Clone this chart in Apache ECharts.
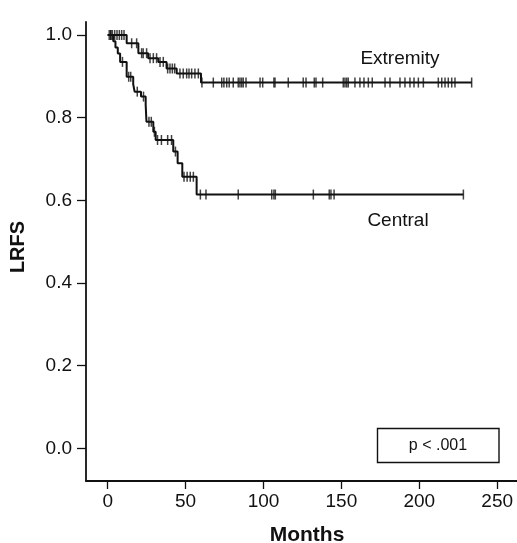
<!DOCTYPE html>
<html>
<head>
<meta charset="utf-8">
<script src="https://cdn.jsdelivr.net/npm/echarts@6/dist/echarts.min.js"></script>
<style>html,body{margin:0;padding:0;background:#fff}#c{width:517px;height:543px}</style>
</head>
<body>
<div id="c"></div>
<script>
// Kaplan-Meier step data (months, LRFS)
var extremityTimes  = [0, 12.2, 19.7, 26, 32.5, 37.8, 44.3, 59.9, 233.6];
var extremityValues = [1.0, 0.980, 0.956, 0.944, 0.935, 0.919, 0.907, 0.885, 0.885];
var extremityCensored = [1, 2, 3, 4.5, 6, 7.5, 9, 10.5, 15.4, 18.6, 21.8, 22.8, 25.0, 27.2, 29.3, 31.4, 33.6, 35.7,
  38.5, 40, 41.5, 43, 46.4, 48.5, 50.7, 52.2, 53.9, 56, 58.2, 60.5, 67.8, 73.2, 74.6, 76.4, 78.0, 80.6, 83.8, 84.9,
  86.0, 87.0, 88.8, 97.8, 99.5, 106.7, 107.4, 115.9, 125.5, 127.3, 132.6, 133.7, 138.0, 151.2, 152.3, 153.4, 154.4,
  158.7, 161.9, 164.5, 167.3, 169.8, 178.0, 181.2, 187.6, 190.8, 194.0, 196.6, 199.4, 202.6, 212.2, 214.4, 216.5,
  218.6, 220.8, 222.9, 233.6];

var centralTimes  = [0, 3.6, 5.0, 6.5, 8.0, 12.2, 16.4, 17.3, 21.4, 24.4, 24.9, 29.3, 30.8, 42.1, 44.9, 47.9, 57.1, 228.3];
var centralValues = [1.0, 0.985, 0.970, 0.955, 0.935, 0.899, 0.881, 0.863, 0.851, 0.831, 0.790, 0.766, 0.746, 0.718, 0.690, 0.657, 0.614, 0.614];
var centralCensored = [2, 9.5, 13.5, 14.8, 19, 23, 26.5, 28, 30, 32, 34.5, 38.5, 41, 43.5, 49, 51, 53, 55, 59.5, 63.1,
  83.8, 105.3, 106.7, 107.6, 132, 142.2, 143.3, 145.3, 228.3];

var xTicks = [0, 50, 100, 150, 200, 250];
var yTicks = [0, 0.2, 0.4, 0.6, 0.8, 1.0];

function stepData(ts, vs) { return ts.map(function (t, i) { return [t, vs[i]]; }); }
function levelAt(ts, vs, t) {
  var v = vs[0];
  for (var i = 0; i < ts.length; i++) { if (ts[i] <= t) v = vs[i]; }
  return v;
}
function censorData(cs, ts, vs) { return cs.map(function (t) { return [t, levelAt(ts, vs, t)]; }); }

var FONT = '"Liberation Sans", Arial, Helvetica, sans-serif';
var INK = '#111';
var chart = echarts.init(document.getElementById('c'));
chart.setOption({
  animation: false,
  backgroundColor: '#fff',
  grid: { left: 86, right: 0, top: 22, bottom: 62 },
  xAxis: {
    type: 'value', min: -13.9, max: 262.7,
    axisLine: { onZero: false, lineStyle: { color: INK, width: 1.8 } },
    axisTick: { customValues: xTicks, length: 8, lineStyle: { color: INK, width: 1.3 } },
    axisLabel: { customValues: xTicks, fontSize: 19, color: INK, fontFamily: FONT, margin: 11 },
    splitLine: { show: false }
  },
  yAxis: {
    type: 'value', min: -0.0791, max: 1.0315,
    axisLine: { onZero: false, lineStyle: { color: INK, width: 1.8 } },
    axisTick: { customValues: yTicks, length: 9, lineStyle: { color: INK, width: 1.3 } },
    axisLabel: { customValues: yTicks, fontSize: 19, color: INK, fontFamily: FONT, margin: 14,
      formatter: function (v) { return v.toFixed(1); } },
    splitLine: { show: false }
  },
  title: {
    text: 'Months', left: 302, top: 520, textAlign: 'center',
    textStyle: { fontSize: 21, fontWeight: 'bold', color: INK, fontFamily: FONT }
  },
  graphic: [
    { type: 'text', x: 18.5, y: 247, rotation: Math.PI / 2,
      style: { text: 'LRFS', font: 'bold 20px ' + FONT, fill: INK,
        textAlign: 'center', textVerticalAlign: 'middle' } },
    { type: 'text', x: 400, y: 59,
      style: { text: 'Extremity', font: '19px ' + FONT, fill: INK, textAlign: 'center', textVerticalAlign: 'middle' } },
    { type: 'text', x: 398, y: 221,
      style: { text: 'Central', font: '19px ' + FONT, fill: INK, textAlign: 'center', textVerticalAlign: 'middle' } },
    { type: 'rect', shape: { x: 377.5, y: 428.5, width: 121.5, height: 34 },
      style: { fill: '#fff', stroke: INK, lineWidth: 1.4 } },
    { type: 'text', x: 438, y: 446,
      style: { text: 'p < .001', font: '16px ' + FONT, fill: INK, textAlign: 'center', textVerticalAlign: 'middle' } }
  ],
  series: [
    { type: 'line', step: 'end', showSymbol: false, data: stepData(extremityTimes, extremityValues),
      lineStyle: { color: INK, width: 2 }, z: 3 },
    { type: 'line', step: 'end', showSymbol: false, data: stepData(centralTimes, centralValues),
      lineStyle: { color: INK, width: 2 }, z: 3 },
    { type: 'scatter', symbol: 'rect', symbolSize: [1.5, 10], data: censorData(extremityCensored, extremityTimes, extremityValues),
      itemStyle: { color: INK }, z: 4 },
    { type: 'scatter', symbol: 'rect', symbolSize: [1.5, 10], data: censorData(centralCensored, centralTimes, centralValues),
      itemStyle: { color: INK }, z: 4 }
  ]
});
</script>
</body>
</html>
